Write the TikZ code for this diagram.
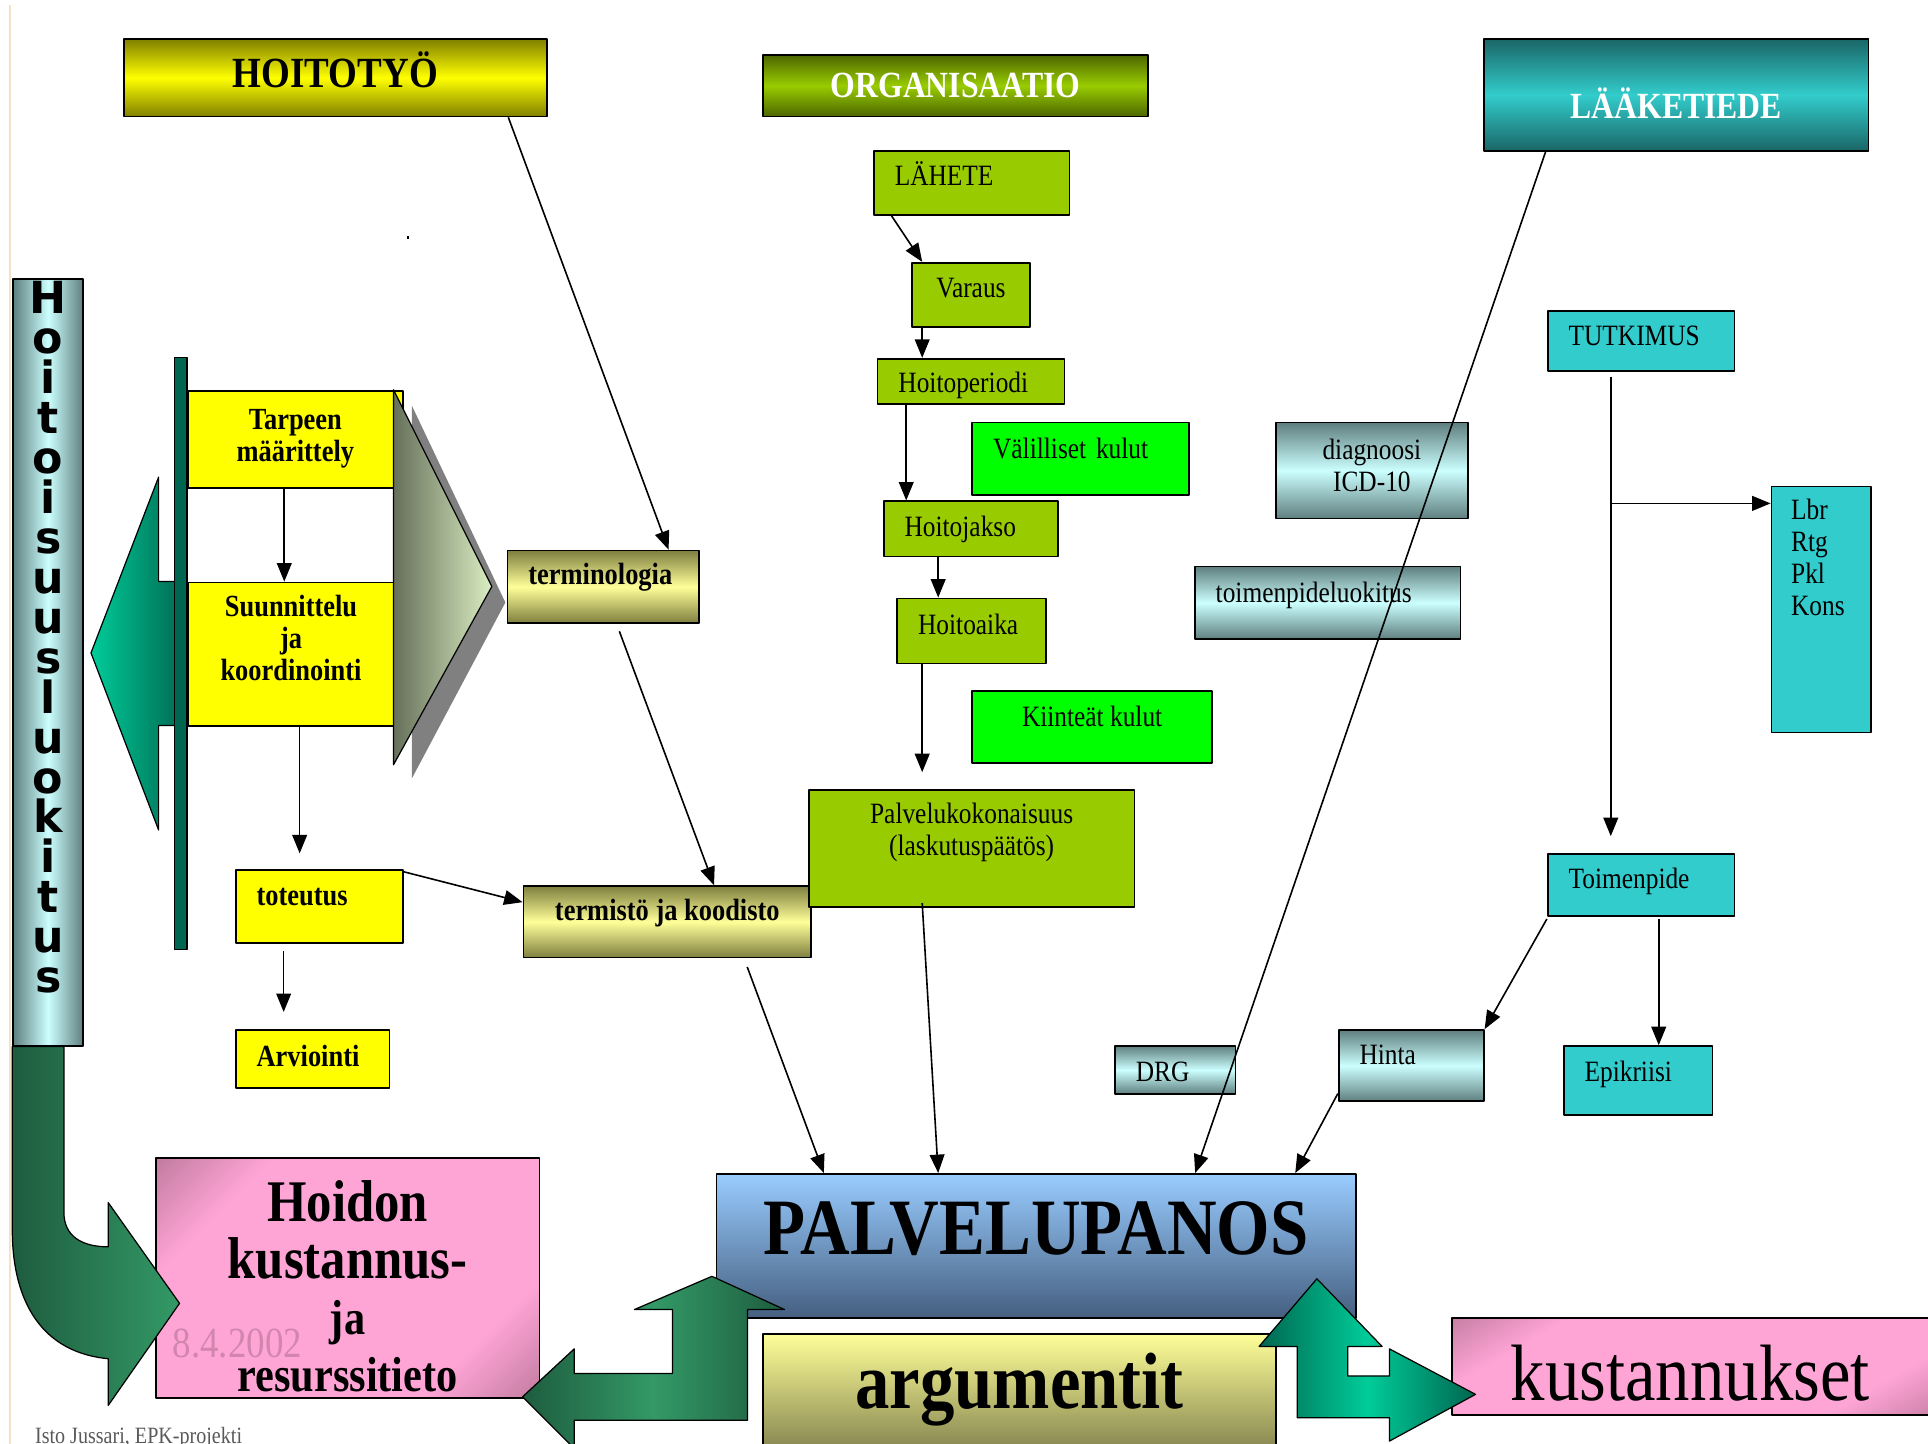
\documentclass[tikz,border=0pt]{standalone}
\usepackage{fontspec}
\setmainfont[FakeStretch=0.86]{Liberation Serif}
\newfontfamily\vertfont{DejaVu Sans}
\usetikzlibrary{arrows.meta,calc}
\definecolor{hoitoolive}{HTML}{808000}
\definecolor{hoitoyellow}{HTML}{FFFF00}
\definecolor{orgdark}{HTML}{4C6600}
\definecolor{orglight}{HTML}{99CC00}
\definecolor{laakedark}{HTML}{1A6666}
\definecolor{laakelight}{HTML}{33CCCC}
\definecolor{slategrey}{HTML}{5F7F7F}
\definecolor{palecyan}{HTML}{CCFFFF}
\definecolor{termdark}{HTML}{7F7F40}
\definecolor{termlight}{HTML}{FFFF99}
\definecolor{kulugreen}{HTML}{00FF00}
\definecolor{bluetop}{HTML}{99CCFF}
\definecolor{bluebot}{HTML}{455F80}
\definecolor{argbot}{HTML}{7F7F4C}
\definecolor{pinkdark}{HTML}{7F4F66}
\definecolor{pinklight}{HTML}{FFA5D6}
\definecolor{greendark}{HTML}{1E5C3F}
\definecolor{greenmid}{HTML}{339966}
\definecolor{mintgreen}{HTML}{00CC99}
\definecolor{bargreen}{HTML}{006650}
\definecolor{chevdark}{HTML}{66705A}
\definecolor{chevlight}{HTML}{DAEEC2}
\definecolor{tanline}{HTML}{F2E2C6}
\pgfdeclareverticalshading{pinkband}{100bp}{color(0bp)=(pinkdark); color(28bp)=(pinklight); color(72bp)=(pinklight); color(100bp)=(pinkdark)}

\begin{document}
\begin{tikzpicture}[x=1pt,y=-1pt,line join=round,>={Triangle[length=15pt,width=12pt]},
  box/.style={draw=black,line width=1.4pt,anchor=north west,inner sep=0pt},
  lft/.style={align=left,inner xsep=17pt,text width=#1},
  lift/.style={text height=18pt,text depth=#1},
  txt/.style={font=\fontsize{24}{26}\selectfont},
  btxt/.style={font=\fontsize{25}{26}\selectfont\bfseries},
  grad/.style={top color=slategrey,bottom color=slategrey,middle color=palecyan},
  termgrad/.style={top color=termdark,bottom color=termdark,middle color=termlight},
  con/.style={->,line width=1.3pt}]
\useasboundingbox (0,0) rectangle (1568,1174);
\clip (0,0) rectangle (1568,1174);
\draw[tanline,line width=1.5pt] (8,4) -- (8,1174);
\fill (331,192) rectangle (333,194);
% headers
\node[box,minimum width=344pt,minimum height=63pt,top color=hoitoolive,bottom color=hoitoolive,middle color=hoitoyellow,font=\fontsize{35}{40}\selectfont\bfseries,text height=23pt,text depth=7pt] (hoitotyo) at (100,31) {HOITOTYÖ};
\node[box,minimum width=313pt,minimum height=50pt,top color=orgdark,bottom color=orgdark,middle color=orglight,text=white,font=\fontsize{30}{34}\selectfont\bfseries] (organis) at (620,44) {ORGANISAATIO};
\node[box,minimum width=313pt,minimum height=91pt,top color=laakedark,bottom color=laakedark,middle color=laakelight,text=white,font=\fontsize{30}{34}\selectfont\bfseries,text height=38pt,text depth=0pt] (laake) at (1206,31) {LÄÄKETIEDE};
% left side
\shade[left color=mintgreen,right color=bargreen,draw=black,line width=1pt] (74,531) -- (129,388) -- (129,473) -- (152,473) -- (152,590) -- (129,590) -- (129,675) -- cycle;
\fill[bargreen,draw=black,line width=1pt] (142,291) rectangle (152,772);
\node[box,minimum width=57pt,minimum height=624pt,left color=slategrey,right color=slategrey,middle color=palecyan,font=\vertfont\fontsize{36}{32.5}\selectfont\bfseries] (luokitus) at (10,226) {\parbox[c][620pt][t]{57pt}{\centering H\\o\\i\\t\\o\\i\\s\\u\\u\\s\\l\\u\\o\\k\\i\\t\\u\\s}};
\node[box,fill=hoitoyellow,minimum width=175pt,minimum height=79pt,btxt,align=center] (tarve) at (152,317) {Tarpeen\\määrittely};
\node[box,fill=hoitoyellow,minimum width=168pt,minimum height=117pt,btxt] (suunn) at (152,473) {\parbox[c][97pt][t]{168pt}{\centering Suunnittelu\\ja\\koordinointi}};
\fill[gray] (335,330) -- (411,490) -- (335,633) -- cycle;
\shade[left color=chevdark,right color=chevlight,draw=black,line width=1pt] (320,317) -- (400,477) -- (320,622) -- cycle;
\node[box,fill=hoitoyellow,minimum width=136pt,minimum height=59pt,btxt,lft=102pt,lift=20pt] (toteutus) at (191,707) {toteutus};
\node[box,fill=hoitoyellow,minimum width=125pt,minimum height=47pt,btxt,lft=91pt,lift=6pt] (arviointi) at (191,837) {Arviointi};
\node[box,termgrad,minimum width=156pt,minimum height=59pt,btxt,lft=122pt,lift=21pt] (termino) at (412,447) {terminologia};
\node[box,termgrad,minimum width=234pt,minimum height=58pt,btxt,lift=20pt] (termisto) at (425,720) {termistö ja koodisto};
% organisaatio
\node[box,fill=orglight,minimum width=159pt,minimum height=52pt,txt,lft=125pt,lift=14pt] (lahete) at (710,122) {LÄHETE};
\node[box,fill=orglight,minimum width=96pt,minimum height=52pt,txt,lift=14pt] (varaus) at (741,213) {Varaus};
\node[box,fill=orglight,minimum width=152pt,minimum height=37pt,txt,lft=118pt,lift=0pt] (periodi) at (713,291) {Hoitoperiodi};
\node[box,fill=kulugreen,minimum width=176pt,minimum height=59pt,txt,lft=142pt,lift=19pt] (valill) at (790,343) {Välilliset kulut};
\node[box,fill=orglight,minimum width=142pt,minimum height=45pt,txt,lft=108pt,lift=6pt] (jakso) at (718,407) {Hoitojakso};
\node[box,fill=orglight,minimum width=121pt,minimum height=53pt,txt,lft=87pt,lift=13pt] (aika) at (729,486) {Hoitoaika};
\node[box,fill=kulugreen,minimum width=195pt,minimum height=59pt,txt,lift=19pt] (kiintea) at (790,561) {Kiinteät kulut};
\node[box,fill=orglight,minimum width=265pt,minimum height=95pt,txt] (kokon) at (657,642) {\parbox[c][75pt][t]{265pt}{\centering Palvelukokonaisuus\\(laskutuspäätös)}};
% laaketiede
\node[box,grad,minimum width=156pt,minimum height=78pt,txt] (diagn) at (1037,343) {\parbox[c][52pt][t]{156pt}{\centering diagnoosi\\ICD-10}};
\node[box,grad,minimum width=216pt,minimum height=59pt,txt,lft=182pt,lift=19pt] (toimluok) at (971,460) {toimenpideluokitus};
\node[box,fill=laakelight,minimum width=152pt,minimum height=49pt,txt,lft=118pt,lift=11pt] (tutkimus) at (1258,252) {TUTKIMUS};
\node[box,fill=laakelight,minimum width=81pt,minimum height=200pt,txt,inner xsep=16pt] (lbr) at (1440,395) {\parbox[c][180pt][t]{49pt}{\raggedright Lbr\\Rtg\\Pkl\\Kons}};
\node[box,fill=laakelight,minimum width=152pt,minimum height=50pt,txt,lft=118pt,lift=12pt] (toimenp) at (1258,694) {Toimenpide};
\node[box,fill=laakelight,minimum width=121pt,minimum height=56pt,txt,lft=87pt,lift=16pt] (epikr) at (1271,850) {Epikriisi};
\node[box,grad,minimum width=118pt,minimum height=58pt,txt,lft=84pt,lift=20pt] (hinta) at (1088,837) {Hinta};
\node[box,grad,minimum width=98pt,minimum height=39pt,txt,lft=64pt,lift=0pt] (drg) at (906,850) {DRG};
% bottom
\node[box,minimum width=520pt,minimum height=117pt,top color=bluetop,bottom color=bluebot,font=\fontsize{65}{70}\selectfont\bfseries,text height=43pt,text depth=29pt] (palvelu) at (582,954) {PALVELUPANOS};
\node[box,minimum width=417pt,minimum height=100pt,top color=termlight,bottom color=argbot,font=\fontsize{65}{70}\selectfont\bfseries,text height=40pt,text depth=18pt] (argum) at (620,1084) {argumentit};
\node[box,minimum width=400pt,minimum height=79pt,shade,shading=pinkband,shading angle=30,font=\fontsize{65}{70}\selectfont,align=left,inner xsep=48pt,text width=304pt,text height=55pt,text depth=0pt] (kust) at (1180,1071) {kustannukset};
\node[box,minimum width=312pt,minimum height=195pt,shade,shading=pinkband,shading angle=45,font=\fontsize{48}{46}\selectfont\bfseries] (hoidon) at (126,941) {\parbox[c][185pt][b]{312pt}{\centering Hoidon\\kustannus-\\{\fontsize{40}{46}\selectfont ja}\\{\fontsize{40}{46}\selectfont resurssitieto}}};
\node[text=pinkdark,opacity=0.35,font=\fontsize{35}{40}\selectfont] (pvm) at (193,1093) {8.4.2002};
\shade[left color=greendark,right color=greenmid,draw=black,line width=1pt] (10,851) -- (52,851) -- (52,986) .. controls (52,1005) and (66,1014) .. (88,1014) -- (88,978) -- (146,1060) -- (88,1143) -- (88,1105) .. controls (35,1100) and (10,1060) .. (10,1000) -- cycle;
\shade[left color=greendark,right color=greendark,middle color=greenmid,draw=black,line width=1pt] (579,1038) -- (638,1065) -- (608,1065) -- (608,1155) -- (467,1155) -- (467,1178) -- (425,1136) -- (467,1097) -- (467,1117) -- (547,1117) -- (547,1065) -- (516,1065) -- cycle;
\shade[left color=bargreen,right color=bargreen,middle color=mintgreen,draw=black,line width=1pt] (1071,1040) -- (1124,1095) -- (1096,1095) -- (1096,1119) -- (1130,1119) -- (1130,1097) -- (1200,1134) -- (1130,1172) -- (1130,1153) -- (1055,1153) -- (1055,1095) -- (1024,1095) -- cycle;
% connectors
\draw[con] ([xshift=-32pt]hoitotyo.south east) -- ([xshift=53pt]termino.north);
\draw[con] ([xshift=-9pt]tarve.south) -- ([xshift=-9pt]tarve.south |- suunn.north);
\draw[con] ([xshift=7pt]suunn.south) -- ([xshift=7pt,yshift=13pt]suunn.south |- toteutus.north);
\draw[con] ([xshift=-29pt,yshift=-6pt]toteutus.south) -- ([xshift=-29pt,yshift=14pt]toteutus.south |- arviointi.north);
\draw[con] ([yshift=-2pt]toteutus.north east) -- ([yshift=16pt]termisto.west);
\draw[con] ([xshift=13pt,yshift=-6pt]termino.south) -- ([xshift=38pt]termisto.north);
\draw[con] ([xshift=65pt,yshift=-7pt]termisto.south) -- ([xshift=88pt]palvelu.north west);
\draw[con] ([xshift=15pt]lahete.south west) -- ([xshift=9pt]varaus.north west);
\draw[con] ([xshift=9pt]varaus.south west) -- ([xshift=9pt]varaus.south west |- periodi.north);
\draw[con] ([xshift=24pt]periodi.south west) -- ([xshift=24pt]periodi.south west |- jakso.north);
\draw[con] ([xshift=45pt]jakso.south west) -- ([xshift=45pt]jakso.south west |- aika.north);
\draw[con] ([xshift=21pt]aika.south west) -- ([xshift=21pt,yshift=14pt]aika.south west |- kokon.north);
\draw[con] ([xshift=93pt,yshift=4pt]kokon.south west) -- ([xshift=181pt]palvelu.north west);
\draw[con] ([xshift=51pt]laake.south west) -- ([xshift=390pt]palvelu.north west);
\draw[con] ([xshift=52pt,yshift=-4pt]tutkimus.south west) -- ([xshift=52pt,yshift=14pt]tutkimus.south west |- toimenp.north);
\coordinate (fork) at ([xshift=52pt,yshift=-107pt]tutkimus.south west);
\draw[con] (fork) -- (fork -| lbr.west);
\draw[con] ([yshift=-2pt]toimenp.south west) -- (hinta.north east);
\draw[con] ([xshift=91pt,yshift=-2pt]toimenp.south west) -- ([xshift=91pt]toimenp.south west |- epikr.north);
\draw[con] ([yshift=7pt]hinta.south west) -- ([xshift=-50pt]palvelu.north east);
\node[anchor=base west,text=gray!70!black,font=\fontsize{19}{20}\selectfont] (footer) at (25,1174) {Isto Jussari, EPK-projekti};
\end{tikzpicture}
\end{document}
